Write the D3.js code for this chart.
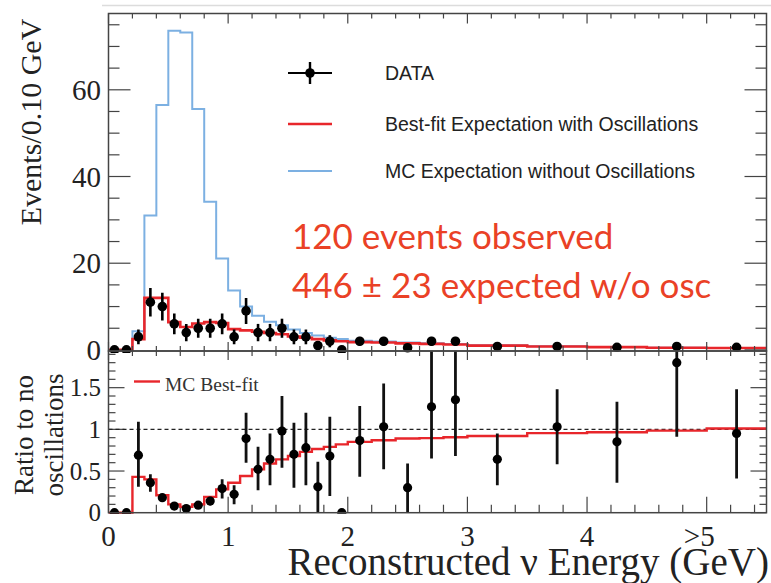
<!DOCTYPE html>
<html><head><meta charset="utf-8">
<script src="https://cdn.jsdelivr.net/npm/d3@7/dist/d3.min.js"></script>
<style>body{margin:0;background:#fff;}svg{display:block;}</style>
</head><body>
<svg id="c" width="771" height="583"></svg>
<script>
// ---- data ----
const binEdges = [0,0.1,0.2,0.3,0.4,0.5,0.6,0.7,0.8,0.9,1.0,1.1,1.2,1.3,1.4,1.5,1.6,1.7,1.8,1.9,2.0,2.2,2.4,2.6,2.8,3.0,3.5,4.0,4.5,5.0,5.5];
const mcNoOsc  = [0,0,4.3,31,56.5,73.6,73.2,55.6,34.2,21.1,13.7,10,7.9,6.5,5.7,4.7,3.9,3.3,2.8,2.5,2.1,1.95,1.7,1.56,1.38,1.09,0.84,0.67,0.51,0.45];
const bestFit  = [0,0,2.5,12,12,6.4,5.3,6.1,6.4,6.2,4.8,4.5,4.2,3.9,3.6,3.1,2.8,2.5,2.2,2.0,1.8,1.7,1.5,1.4,1.25,1.0,0.8,0.65,0.5,0.45];
const dataVals = [0,0,3,11,10,6,4,5,5,6,3,9,4,4,5,3,3,1,2,0,2,2,0.5,2,2,0.8,0.8,0.6,0.8,0.6];
const dataErr  = [0,0,1.7,3.3,3.2,2.4,2,2.2,2.2,2.4,1.7,3,2,2,2.2,1.7,1.7,1,1.4,0,1,1,0.5,1,1,0.4,0.4,0.35,0.4,0.35];
const ratioFit = [0,0,0.43,0.40,0.21,0.10,0.07,0.10,0.19,0.28,0.36,0.44,0.52,0.59,0.64,0.68,0.73,0.765,0.79,0.82,0.85,0.87,0.89,0.895,0.905,0.92,0.955,0.965,0.985,1.01];
const ratioVal = [0,0,0.69,0.36,0.18,0.08,0.05,0.09,0.14,0.29,0.22,0.89,0.52,0.64,0.98,0.70,0.78,0.31,0.68,0,0.865,1.03,0.30,1.27,1.355,0.64,1.03,0.85,1.80,0.95];
const ratioLo  = [0,0,0.31,0.25,0.14,0.05,0.02,0.06,0.09,0.17,0.10,0.60,0.27,0.33,0.54,0.30,0.33,0,0.20,0,0.43,0.52,0,0.65,0.68,0.33,0.58,0.36,0.91,0.41];
const ratioHi  = [0,0,1.09,0.46,0.22,0.11,0.09,0.12,0.19,0.40,0.33,1.20,0.79,0.95,1.40,1.08,1.20,0.61,1.15,0,1.28,1.55,0.59,2.0,2.1,0.95,1.48,1.33,2.2,1.48];
const xTickVals = [0,1,2,3,4,5];
const xTickLabels = ["0","1","2","3","4",">5"];
const yTopTicks = [0,20,40,60];
const yBotTicks = [0,0.5,1,1.5];
const yBotLabels = ["0","0.5","1","1.5"];
const legendTop = ["DATA","Best-fit Expectation with Oscillations","MC Expectation without Oscillations"];
const annot = ["120 events observed","446 \u00B1 23 expected w/o osc"];

// ---- layout ----
const L=108.5, R=766.5, T=13.5, M=351, B=512.7;
const RED="#e8262b", BLUE="#7cb0e2", FRAME="#444", ORANGE="#ea4126";
const serif="'Liberation Serif','Times New Roman',serif";
const sans="'Liberation Sans',Arial,sans-serif";
const svg=d3.select("#c");

const x=d3.scaleLinear().domain([0,5.5]).range([L,R]);
const yT=d3.scaleLinear().domain([-0.25,77.6]).range([M,T]);
const yB=d3.scaleLinear().domain([0,1.94]).range([B,M]);

// decorative top line
svg.append("line").attr("x1",102).attr("x2",771).attr("y1",5.5).attr("y2",5.5).attr("stroke","#dcdcdc").attr("stroke-width",1.5);

const centers=d3.range(dataVals.length).map(i=>(binEdges[i]+binEdges[i+1])/2);
function stepPts(vals){const p=vals.map((v,i)=>[binEdges[i],v]);p.push([binEdges[binEdges.length-1],vals[vals.length-1]]);return p;}

svg.append("clipPath").attr("id","ct").append("rect").attr("x",L).attr("y",T).attr("width",R-L).attr("height",M-T+2);
svg.append("clipPath").attr("id","cb").append("rect").attr("x",L).attr("y",M).attr("width",R-L).attr("height",B-M+1);

// ---------- top panel ----------
const gT=svg.append("g").attr("clip-path","url(#ct)");
const lineT=d3.line().x(d=>x(d[0])).y(d=>yT(d[1])).curve(d3.curveStepAfter);
gT.append("path").attr("d",lineT(stepPts(mcNoOsc))).attr("fill","none").attr("stroke",BLUE).attr("stroke-width",2);
gT.append("path").attr("d",lineT(stepPts(bestFit))).attr("fill","none").attr("stroke",RED).attr("stroke-width",2.6);

function yTicksPanel(scale, majors, minorStep, dom, majLen, minLen){
  const g=svg.append("g").attr("stroke",FRAME).attr("stroke-width",1.2);
  d3.range(dom[0],dom[1]+1e-9,minorStep).forEach(v=>{
    const isMaj=majors.some(m=>Math.abs(m-v)<1e-6);
    const len=isMaj?majLen:minLen, yy=scale(v);
    g.append("line").attr("x1",L).attr("x2",L+len).attr("y1",yy).attr("y2",yy);
    g.append("line").attr("x1",R).attr("x2",R-len).attr("y1",yy).attr("y2",yy);
  });
}
yTicksPanel(yT,yTopTicks,5,[0,75],22,11);
yTicksPanel(yB,yBotTicks,0.1,[0,1.9],16,7);

function xTicksAt(yy,dir,majLen,minLen){
  const g=svg.append("g").attr("stroke",FRAME).attr("stroke-width",1.2);
  d3.range(0,5.5+1e-9,0.2).forEach(v=>{
    const isMaj=Math.abs(v-Math.round(v))<1e-6;
    const len=isMaj?majLen:minLen;
    g.append("line").attr("x1",x(v)).attr("x2",x(v)).attr("y1",yy).attr("y2",yy+dir*len);
  });
}
xTicksAt(T,1,10,5);
xTicksAt(M,-1,9,5);
xTicksAt(M,1,9,5);
xTicksAt(B,-1,16,8);

// data points top
const gD=svg.append("g").attr("clip-path","url(#ct)");
centers.forEach((c,i)=>{
  if(dataErr[i]>0) gD.append("line").attr("x1",x(c)).attr("x2",x(c)).attr("y1",yT(dataVals[i]-dataErr[i])).attr("y2",yT(dataVals[i]+dataErr[i])).attr("stroke","#000").attr("stroke-width",2.6);
  gD.append("circle").attr("cx",x(c)).attr("cy",yT(dataVals[i])).attr("r",4.8).attr("fill","#000");
});

// ---------- bottom panel ----------
svg.append("line").attr("x1",L).attr("x2",R).attr("y1",yB(1)).attr("y2",yB(1)).attr("stroke","#222").attr("stroke-width",1.1).attr("stroke-dasharray","4,3");
const gB=svg.append("g").attr("clip-path","url(#cb)");
const lineB=d3.line().x(d=>x(d[0])).y(d=>yB(d[1])).curve(d3.curveStepAfter);
gB.append("path").attr("d",lineB(stepPts(ratioFit))).attr("fill","none").attr("stroke",RED).attr("stroke-width",2.4);
centers.forEach((c,i)=>{
  if(ratioHi[i]>ratioLo[i]) gB.append("line").attr("x1",x(c)).attr("x2",x(c)).attr("y1",yB(ratioLo[i])).attr("y2",yB(ratioHi[i])).attr("stroke","#111").attr("stroke-width",2.8);
  gB.append("circle").attr("cx",x(c)).attr("cy",yB(ratioVal[i])).attr("r",4.6).attr("fill","#000");
});

// frames
svg.append("rect").attr("x",L).attr("y",T).attr("width",R-L).attr("height",M-T).attr("fill","none").attr("stroke",FRAME).attr("stroke-width",1.5);
svg.append("rect").attr("x",L).attr("y",M).attr("width",R-L).attr("height",B-M).attr("fill","none").attr("stroke",FRAME).attr("stroke-width",1.5);

// tick labels
svg.append("g").selectAll("text").data(yTopTicks).join("text")
  .attr("x",101).attr("y",d=>yT(d)+10).attr("text-anchor","end")
  .style("font-family",serif).style("font-size","29px").attr("fill","#222").text(d=>d);
svg.append("g").selectAll("text").data(yBotTicks).join("text")
  .attr("x",101).attr("y",d=>yB(d)+8.5).attr("text-anchor","end")
  .style("font-family",serif).style("font-size","25px").attr("fill","#222").text((d,i)=>yBotLabels[i]);
svg.append("g").selectAll("text").data(xTickVals).join("text")
  .attr("x",d=>d===5?x(d)+8:x(d)).attr("y",546).attr("text-anchor",d=>d===5?"end":"middle")
  .style("font-family",serif).style("font-size","29px").attr("fill","#222").text((d,i)=>xTickLabels[i]);

// axis titles
svg.append("text").attr("x",769).attr("y",575).attr("text-anchor","end")
  .style("font-family",serif).style("font-size","39px").attr("fill","#222").text("Reconstructed \u03BD Energy (GeV)");
svg.append("text").attr("transform","translate(41,122) rotate(-90)").attr("text-anchor","middle")
  .style("font-family",serif).style("font-size","30px").attr("fill","#222").text("Events/0.10 GeV");
svg.append("text").attr("transform","translate(33,435) rotate(-90)").attr("text-anchor","middle")
  .style("font-family",serif).style("font-size","27px").attr("fill","#222").text("Ratio to no");
svg.append("text").attr("transform","translate(63,435) rotate(-90)").attr("text-anchor","middle")
  .style("font-family",serif).style("font-size","27px").attr("fill","#222").text("oscillations");

// legend top
const lg=svg.append("g");
lg.append("line").attr("x1",288).attr("x2",332).attr("y1",73).attr("y2",73).attr("stroke","#000").attr("stroke-width",2);
lg.append("line").attr("x1",310).attr("x2",310).attr("y1",62).attr("y2",84).attr("stroke","#000").attr("stroke-width",2.4);
lg.append("circle").attr("cx",310).attr("cy",73).attr("r",4.8).attr("fill","#000");
lg.append("line").attr("x1",288).attr("x2",332).attr("y1",124).attr("y2",124).attr("stroke",RED).attr("stroke-width",2.6);
lg.append("line").attr("x1",288).attr("x2",332).attr("y1",171).attr("y2",171).attr("stroke",BLUE).attr("stroke-width",2);
lg.selectAll("text").data(legendTop).join("text").attr("x",385).attr("y",(d,i)=>[80,131,178][i])
  .style("font-family",sans).style("font-size","19.5px").attr("fill","#222").text(d=>d);

// annotations
svg.selectAll("text.ann").data(annot).join("text").attr("class","ann").attr("x",292).attr("y",(d,i)=>[249,298][i])
  .style("font-family","Lato,'Open Sans',sans-serif").style("font-size","35px").attr("fill",ORANGE).text(d=>d);

// bottom legend
svg.append("line").attr("x1",134).attr("x2",160).attr("y1",381.5).attr("y2",381.5).attr("stroke",RED).attr("stroke-width",2.4);
svg.append("text").attr("x",165).attr("y",391).style("font-family",serif).style("font-size","19.5px").attr("fill","#333").text("MC Best-fit");
</script>
</body></html>
